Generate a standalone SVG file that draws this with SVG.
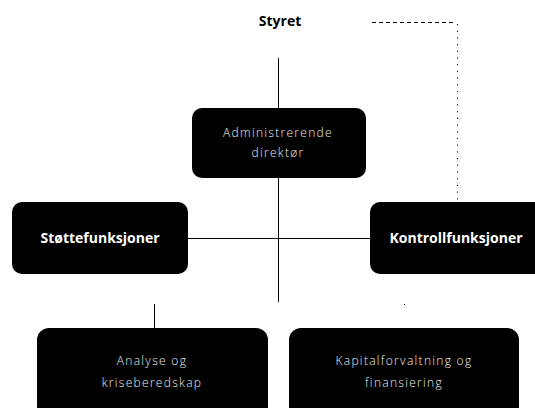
<svg xmlns="http://www.w3.org/2000/svg" width="535" height="408" viewBox="0 0 535 408">
<style>
.box{fill:#000}
.b{font-family:"Open Sans","Liberation Sans",sans-serif;font-weight:bold;font-size:14px;fill:#fff;text-anchor:middle}
.l{font-family:"Open Sans","Liberation Sans",sans-serif;font-weight:300;font-size:12px;fill:#eee;text-anchor:middle;letter-spacing:1.3px}
.ln{stroke:#000;stroke-width:1;fill:none}
</style>
<rect width="535" height="408" fill="#fff"/>
<g id="connectors">
<line class="ln" x1="278.5" y1="58" x2="278.5" y2="302"/>
<line class="ln" x1="188" y1="238.5" x2="370" y2="238.5"/>
<line class="ln" x1="154.5" y1="304" x2="154.5" y2="328"/>
<line class="ln" x1="404.5" y1="304" x2="404.5" y2="328" stroke-dasharray="1 23"/>
<line class="ln" x1="372" y1="22.5" x2="456" y2="22.5" stroke="#666" stroke-dasharray="4 3"/>
<line class="ln" x1="457.5" y1="24" x2="457.5" y2="202" stroke-dasharray="1.2 5.5"/>
</g>
<g id="styret"><text x="280" y="26" class="b" style="fill:#000">Styret</text></g>
<g id="admin">
<rect class="box" x="192" y="108" width="174" height="70" rx="10"/>
<text class="l" x="278" y="137">Administrerende</text>
<text class="l" x="278" y="157">direktør</text>
</g>
<g id="stotte">
<rect class="box" x="12" y="202" width="176" height="72" rx="10"/>
<text class="b" x="100" y="243">Støttefunksjoner</text>
</g>
<g id="kontroll">
<rect class="box" x="370" y="202" width="175" height="72" rx="10"/>
<text class="b" x="456" y="243">Kontrollfunksjoner</text>
</g>
<g id="analyse">
<rect class="box" x="37" y="328" width="231" height="90" rx="12"/>
<text class="l" x="152" y="365">Analyse og</text>
<text class="l" x="152" y="387">kriseberedskap</text>
</g>
<g id="kapital">
<rect class="box" x="289" y="328" width="230" height="90" rx="12"/>
<text class="l" x="404" y="365">Kapitalforvaltning og</text>
<text class="l" x="404" y="387">finansiering</text>
</g>
</svg>
